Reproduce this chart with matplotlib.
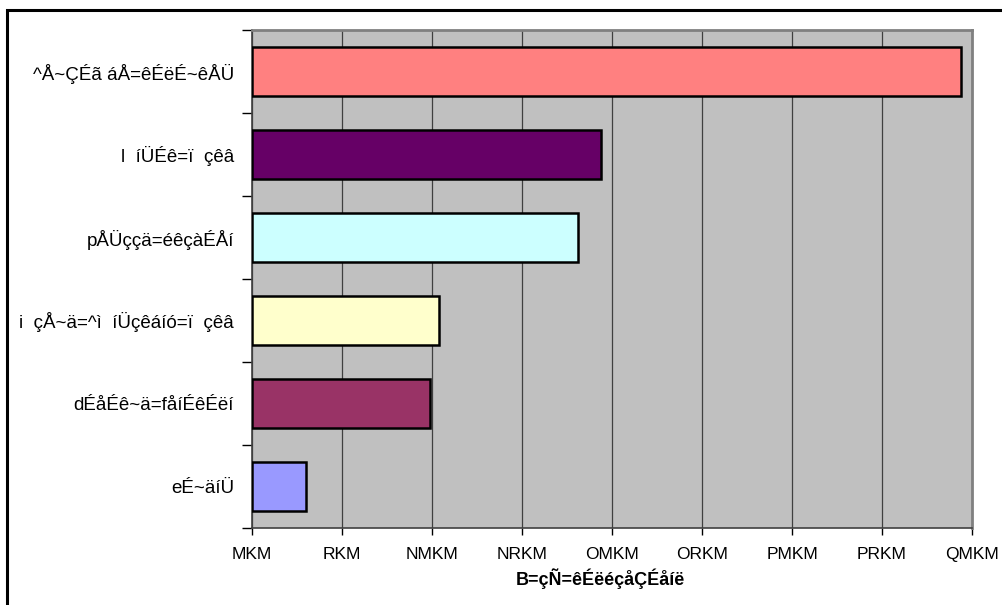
import matplotlib
matplotlib.use("Agg")
import matplotlib.pyplot as plt
from matplotlib.patches import Rectangle
from matplotlib import font_manager
import numpy as np

# Category labels (top to bottom) and their values
categories = [
    "^Å~ÇÉã áÅ=êÉëÉ~êÅÜ",
    "l  íÜÉê=ï  çêâ",
    "pÅÜççä=éêçàÉÅí",
    "i  çÅ~ä=^ì  íÜçêáíó=ï  çêâ",
    "dÉåÉê~ä=fåíÉêÉëí",
    "eÉ~äíÜ",
]
values = [39.4, 19.4, 18.1, 10.4, 9.9, 3.0]
bar_colors = ["#FF8080", "#660066", "#CCFFFF", "#FFFFCC", "#993366", "#9999FF"]

tick_values = [0, 5, 10, 15, 20, 25, 30, 35, 40]
tick_labels = ["MKM", "RKM", "NMKM", "NRKM", "OMKM", "ORKM", "PMKM", "PRKM", "QMKM"]
x_title = "B=çÑ=êÉëéçåÇÉåíë"

available = {f.name for f in font_manager.fontManager.ttflist}
narrow = [f for f in ("Liberation Sans Narrow", "DejaVu Sans Condensed") if f in available]
tick_family = narrow + ["Liberation Sans"]

W, H = 1003, 605
fig = plt.figure(figsize=(W / 100, H / 100), dpi=100)
fig.patch.set_facecolor("white")

# outer chart frame
fig.patches.append(Rectangle((7 / W, -0.1), 1.2, 1 - 10 / H + 0.1,
                             transform=fig.transFigure, fill=False,
                             edgecolor="black", linewidth=2.2, zorder=0))

ax = fig.add_axes([252 / W, 1 - 528 / H, 720 / W, 498 / H])
ax.set_facecolor("#C0C0C0")

n = len(categories)
ypos = np.arange(n)[::-1]
ax.barh(ypos, values, height=0.58, color=bar_colors, edgecolor="black",
        linewidth=1.8, zorder=3)

ax.set_xlim(0, 40)
ax.set_ylim(-0.5, n - 0.5)

ax.set_xticks(tick_values)
ax.set_xticklabels(tick_labels, family=tick_family, fontsize=12.5)
ax.xaxis.grid(True, color="#404040", linewidth=0.9, zorder=1)
ax.set_axisbelow(True)

# category boundaries as major y ticks, names on minor ticks
ax.set_yticks(np.arange(-0.5, n, 1.0))
ax.set_yticklabels([])
ax.set_yticks(ypos, minor=True)
ax.set_yticklabels(categories, minor=True, family=["Liberation Sans", "DejaVu Sans"],
                   fontsize=13.5)
ax.tick_params(axis="y", which="major", length=7, width=1.0, color="black", direction="out")
ax.tick_params(axis="y", which="minor", length=0, pad=13)
ax.tick_params(axis="x", length=5, width=1.0, color="black", direction="out", pad=9)

for side in ("top", "right"):
    ax.spines[side].set_color("#808080")
    ax.spines[side].set_linewidth(2.0)
for side in ("left", "bottom"):
    ax.spines[side].set_color("#404040")
    ax.spines[side].set_linewidth(1.2)

ax.set_xlabel(x_title, family=["Liberation Sans", "DejaVu Sans"], fontweight="bold",
              fontsize=13)
ax.xaxis.set_label_coords((600 - 252) / 720, -40 / 498)

fig.savefig("out.png", dpi=100)
